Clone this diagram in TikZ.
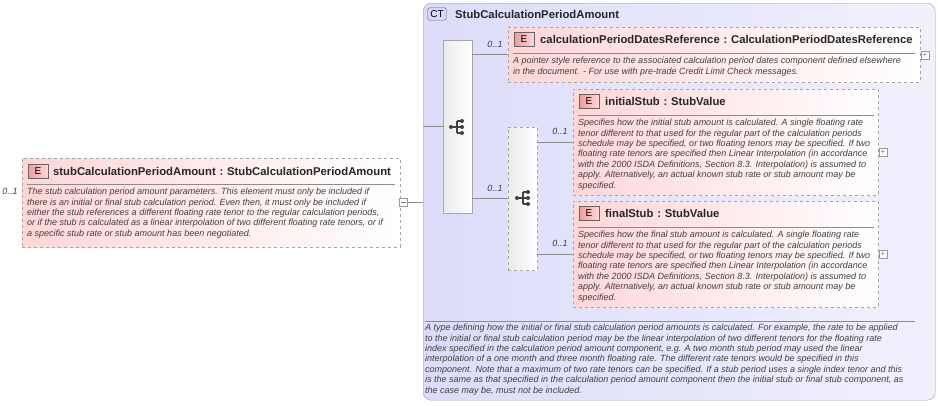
\documentclass[tikz,border=0pt]{standalone}
\usepackage{fontspec}
\setmainfont{Liberation Sans}
\usetikzlibrary{positioning}
\definecolor{elpink}{HTML}{FFD6D6}
\definecolor{ctblue}{HTML}{DCDCFA}
\definecolor{ctline}{HTML}{9A9AB0}
\definecolor{badge}{HTML}{F08080}
\newcommand{\seqicon}[2]{%
  \fill[black!75] (#1-6,#2) circle (2);
  \draw[black!75,line width=1.1] (#1-6,#2) -- (#1,#2) (#1,#2-6) -- (#1,#2+6)
    (#1,#2-6) -- (#1+5,#2-6) (#1,#2) -- (#1+5,#2) (#1,#2+6) -- (#1+5,#2+6);
  \foreach \dy in {-6,0,6} \fill[black!75] (#1+5,#2+\dy) circle (2);}
\begin{document}
\begin{tikzpicture}[x=1pt,y=-1pt,
    element/.style={draw=black!35, dashed, left color=elpink, right color=white, inner sep=0pt, anchor=north west},
    seqbox/.style={draw=black!35, left color=black!8, right color=white, inner sep=0pt, minimum width=29pt},
    badgebox/.style={draw=black!60, left color=badge!80, right color=badge!30, font=\fontsize{10}{10}\selectfont, minimum width=20pt, minimum height=14pt, inner sep=0pt},
    title/.style={font=\bfseries\fontsize{11.3}{13}\selectfont, text=black!85, anchor=west, inner sep=0pt},
    desc/.style={font=\itshape\fontsize{9}{10.4}\selectfont, text=black!75, align=left, anchor=north west, inner sep=0pt},
    card/.style={font=\itshape\fontsize{9}{10}\selectfont, text=black!75, inner sep=0pt},
    expander/.style={draw=black!40, fill=white, minimum size=8pt, inner sep=0pt, font=\fontsize{8}{8}\selectfont, text=black!50},
    conn/.style={draw=black!45, line width=0.6}
]
\useasboundingbox (0,0) rectangle (938,405);
% complex type container
\node[draw=ctline, rounded corners=8pt, left color=ctblue, right color=ctblue!40, minimum width=512pt, minimum height=397pt, anchor=north west, inner sep=0pt] (ct) at (423,3) {};
\node[draw=black!60, rounded corners=3pt, fill=ctblue!70!blue!40, minimum width=19pt, minimum height=13pt, inner sep=0pt, font=\fontsize{10}{10}\selectfont] (ctbadge) at (437,14) {CT};
\node[title] (cttitle) at (455,14) {StubCalculationPeriodAmount};

% left element
\node[element, minimum width=378pt, minimum height=89pt] (stub) at (22,158) {};
\node[badgebox] (stubE) at (38,171) {E};
\node[title] at (53,171) {stubCalculationPeriodAmount\,\,:\,\,StubCalculationPeriodAmount};
\draw[black!45] (27,184) -- (395,184);
\node[desc] at (27,188) {The stub calculation period amount parameters. This element must only be included if\\there is an initial or final stub calculation period. Even then, it must only be included if\\either the stub references a different floating rate tenor to the regular calculation periods,\\or if the stub is calculated as a linear interpolation of two different floating rate tenors, or if\\a specific stub rate or stub amount has been negotiated.};
\node[card] at (10,191) {0..1};
\node[expander] (stubX) at (403,202) {};
\draw[black!50] (400.5,202) -- (405.5,202);
\coordinate (ctin) at (423,202);
\draw[conn] (stubX) -- (ctin);

% sequences
\node[seqbox, minimum height=173pt] (seqA) at (457.5,126.5) {};
\node[seqbox, dashed, minimum height=143pt] (seqB) at (522.5,198.5) {};
\seqicon{457}{127}
\seqicon{523}{198}
\coordinate (ctleft) at (423,126.5);
\draw[conn] (ctleft) -- (seqA.west);

% calculationPeriodDatesReference
\node[element, minimum width=412pt, minimum height=55pt] (cpdr) at (508,27) {};
\node[badgebox] at (524,39) {E};
\node[title] at (540,39) {calculationPeriodDatesReference\,\,:\,\,CalculationPeriodDatesReference};
\draw[black!45] (513,53) -- (915,53);
\node[desc] at (513,57) {A pointer style reference to the associated calculation period dates component defined elsewhere\\in the document. - For use with pre-trade Credit Limit Check messages.};
\node[expander] at (925,55) {+};

% initialStub
\node[element, minimum width=305pt, minimum height=106pt] (init) at (573,89) {};
\node[badgebox] at (589,101) {E};
\node[title] at (605,101) {initialStub\,\,:\,\,StubValue};
\draw[black!45] (578,115) -- (874,115);
\node[desc] at (578,119) {Specifies how the initial stub amount is calculated. A single floating rate\\tenor different to that used for the regular part of the calculation periods\\schedule may be specified, or two floating tenors may be specified. If two\\floating rate tenors are specified then Linear Interpolation (in accordance\\with the 2000 ISDA Definitions, Section 8.3. Interpolation) is assumed to\\apply. Alternatively, an actual known stub rate or stub amount may be\\specified.};
\node[expander] at (883,152) {+};

% finalStub
\node[element, minimum width=305pt, minimum height=106pt] (final) at (573,201) {};
\node[badgebox] at (589,213) {E};
\node[title] at (605,213) {finalStub\,\,:\,\,StubValue};
\draw[black!45] (578,227) -- (874,227);
\node[desc] at (578,231) {Specifies how the final stub amount is calculated. A single floating rate\\tenor different to that used for the regular part of the calculation periods\\schedule may be specified, or two floating tenors may be specified. If two\\floating rate tenors are specified then Linear Interpolation (in accordance\\with the 2000 ISDA Definitions, Section 8.3. Interpolation) is assumed to\\apply. Alternatively, an actual known stub rate or stub amount may be\\specified.};
\node[expander] at (883,254) {+};

% connectors
\draw[conn] (seqA.east |- cpdr.west) -- (cpdr.west);
\draw[conn] (seqA.east |- seqB.west) -- (seqB.west);
\draw[conn] (seqB.east |- init.west) -- (init.west);
\draw[conn] (seqB.east |- final.west) -- (final.west);
\node[card] at (495,44) {0..1};
\node[card] at (495,188) {0..1};
\node[card] at (560,131) {0..1};
\node[card] at (560,243) {0..1};

% type documentation
\draw[black!45] (425,321) -- (915,321);
\node[desc] at (425,324) {A type defining how the initial or final stub calculation period amounts is calculated. For example, the rate to be applied\\to the initial or final stub calculation period may be the linear interpolation of two different tenors for the floating rate\\index specified in the calculation period amount component, e.g. A two month stub period may used the linear\\interpolation of a one month and three month floating rate. The different rate tenors would be specified in this\\component. Note that a maximum of two rate tenors can be specified. If a stub period uses a single index tenor and this\\is the same as that specified in the calculation period amount component then the initial stub or final stub component, as\\the case may be, must not be included.};
\end{tikzpicture}
\end{document}
